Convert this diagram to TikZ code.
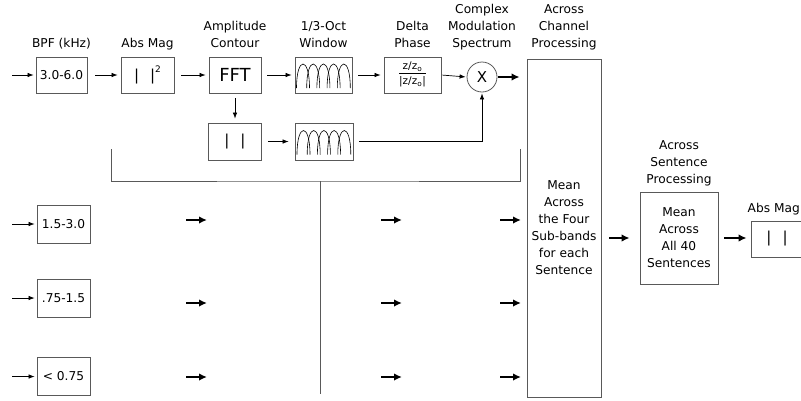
\documentclass[tikz,border=0pt]{standalone}
\usepackage{fontspec}
\setmainfont{DejaVu Sans}
\usetikzlibrary{arrows.meta,positioning}

\begin{document}
\begin{tikzpicture}[x=1pt, y=-1pt, every node/.style={font=\fontsize{12.2}{17}\selectfont},
	>={Latex[length=6pt,width=4.5pt]},
	box/.style={draw=black!65, line width=0.8pt, minimum width=52pt, minimum height=36pt, inner sep=0pt, align=center},
	lbl/.style={align=center, inner sep=0pt, text depth=3pt},
	flow/.style={->, line width=0.7pt, shorten <=7pt, shorten >=3pt},
	fat/.style={-{Latex[length=8pt,width=7.5pt]}, line width=2.2pt},
	wire/.style={draw=black!65, line width=0.8pt},
	arches/.pic={\foreach \i in {0,...,4} \draw[line width=0.6pt] ({-27+10.2*\i},13) .. controls ({-27+10.2*\i},-19) and ({-14+10.2*\i},-19) .. ({-14+10.2*\i},13);}]
	\useasboundingbox (0,0) rectangle (801,400);
	\clip (0,0) rectangle (801,400);
	% top channel
	\node[box, minimum width=51pt] (bpf) at (61.5,75) {3.0-6.0};
	\node[box, minimum width=53pt] (abs) at (147.5,75) {\fontsize{15}{15}\selectfont |\hspace{11pt}|\raisebox{8pt}{\fontsize{9}{9}\selectfont 2}};
	\node[box] (fft) at (235,75) {\fontsize{18}{18}\selectfont FFT};
	\node[box, minimum width=57pt] (win) at (323.5,75) {};
	\pic at (win) {arches};
	\node[box, minimum width=57pt] (dph) at (412.5,75) {\fontsize{10.5}{11}\selectfont\begin{tabular}{@{}c@{}}z/z\textsubscript{o}\\\hline\rule{0pt}{11pt}|z/z\textsubscript{o}|\end{tabular}};
	\node[circle, draw=black!65, line width=0.8pt, minimum size=30pt, inner sep=0pt] (mult) at (482,77) {\fontsize{15}{15}\selectfont X};
	\node[box, minimum width=53pt, minimum height=37pt] (mag) at (235,141.5) {\fontsize{15}{15}\selectfont |\hspace{11pt}|};
	\node[box, minimum width=58pt, minimum height=37pt] (win2) at (324,141.5) {};
	\pic at (win2) {arches};
	% other sub-bands
	\node[box, minimum width=53pt, minimum height=38pt] (bpfb) at (63.5,224) {1.5-3.0};
	\node[box, minimum width=53pt, minimum height=38pt] (bpfc) at (63.5,298) {.75-1.5};
	\node[box, minimum width=53pt, minimum height=38pt] (bpfd) at (63.5,376.5) {< 0.75};
	% across channel / sentence
	\node[box, minimum width=74pt, minimum height=338pt] (chan) at (564,228) {Mean\\Across\\the Four\\Sub-bands\\for each\\Sentence};
	\node[box, minimum width=78pt, minimum height=92pt] (sent) at (679,238) {Mean\\Across\\All 40\\Sentences};
	\node[box, minimum width=56pt] (mag3) at (779,239) {\hspace*{-4pt}\fontsize{15}{15}\selectfont |\hspace{11pt}|};
	% labels
	\node[lbl, above=6pt of bpf] {BPF (kHz)};
	\node[lbl, above=6pt of abs] {Abs Mag};
	\node[lbl, above=6pt of fft] {Amplitude\\Contour};
	\node[lbl, above=6pt of win] {1/3-Oct\\Window};
	\node[lbl, above=6pt of dph] {Delta\\Phase};
	\node[lbl, above=11pt of mult] {Complex\\Modulation\\Spectrum};
	\node[lbl, above=8pt of chan] {Across\\Channel\\Processing};
	\node[lbl, above=5pt of sent] {Across\\Sentence\\Processing};
	\node[lbl, anchor=south east] at (800,216) {Abs Mag};
	% inputs
	\coordinate (ina) at (12,75);
	\coordinate (inb) at (12,224);
	\coordinate (inc) at (12,298);
	\coordinate (ind) at (12,376.5);
	\draw[flow, shorten <=0pt, shorten >=2pt] (ina) -- (bpf.west);
	\draw[flow, shorten <=0pt, shorten >=2pt] (inb) -- (bpfb.west);
	\draw[flow, shorten <=0pt, shorten >=2pt] (inc) -- (bpfc.west);
	\draw[flow, shorten <=0pt, shorten >=2pt] (ind) -- (bpfd.west);
	% top chain
	\draw[flow, shorten <=8pt] (bpf.east) -- (abs.west);
	\draw[flow] (abs.east) -- (fft.west);
	\draw[flow, shorten <=6pt] (fft.east) -- (win.west);
	\draw[flow, shorten <=6pt] (win.east) -- (dph.west);
	\draw[flow, shorten <=1pt, shorten >=1pt] (dph.east) -- (mult.west);
	\draw[fat, shorten <=1pt, shorten >=7pt] (mult.east) -- (mult.east -| chan.west);
	\draw[flow, shorten <=5pt, shorten >=4pt] (fft.south) -- (mag.north);
	\draw[flow, shorten <=6pt, shorten >=6pt] (mag.east) -- (win2.west);
	\draw[flow, shorten <=6pt, shorten >=1pt] (win2.east) -| (mult.south);
	% bracket
	\coordinate (bl) at (111,149);
	\coordinate (br) at (520,149);
	\coordinate (bm) at (320,181);
	\coordinate (bend) at (320,394);
	\draw[wire] (bl) |- (bm) -| (br);
	\draw[wire] (bm) -- (bend);
	\foreach \y in {220,303,377}
		\foreach \x in {186,381,500}
			\draw[fat] (\x,\y) -- ++(21,0);
	% outputs
	\draw[fat, shorten <=8pt, shorten >=10pt] (chan.east |- sent.west) -- (sent.west);
	\draw[fat, shorten <=6pt, shorten >=4pt] (sent.east) -- (sent.east -| mag3.west);
\end{tikzpicture}
\end{document}
